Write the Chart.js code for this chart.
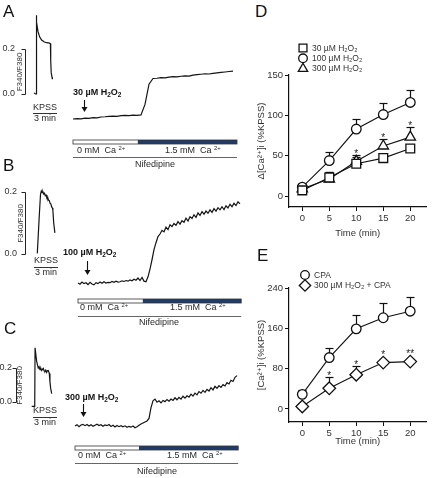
<!DOCTYPE html>
<html>
<head>
<meta charset="utf-8">
<script src="https://cdn.jsdelivr.net/npm/chart.js@4.4.1/dist/chart.umd.min.js"></script>
<style>
  html, body { margin: 0; padding: 0; background: #fff; }
  body { position: relative; width: 434px; height: 478px; overflow: hidden;
         font-family: "Liberation Sans", Arial, sans-serif; color: #2a2a2a; }
  canvas { position: absolute; }
  .t { position: absolute; white-space: nowrap; line-height: 1; }
  .panel { font-size: 17px; color: #111; }
  .drug { font-size: 9px; font-weight: bold; color: #111; }
  .sm { font-size: 9px; }
  .ctr { transform: translateX(-50%); }
  .sub { font-size: 0.72em; position: relative; top: 0.28em; }
  .sup { font-size: 0.65em; position: relative; top: -0.45em; }
</style>
</head>
<body>
<canvas id="kpss-A"></canvas><canvas id="main-A"></canvas>
<canvas id="kpss-B"></canvas><canvas id="main-B"></canvas>
<canvas id="kpss-C"></canvas><canvas id="main-C"></canvas>
<canvas id="chart-D"></canvas><canvas id="chart-E"></canvas>

<!-- panel letters -->
<div class="t panel" style="left:3px;top:3px">A</div>
<div class="t panel" style="left:3px;top:157px">B</div>
<div class="t panel" style="left:4px;top:320px">C</div>
<div class="t panel" style="left:255px;top:3px">D</div>
<div class="t panel" style="left:257px;top:247px">E</div>

<!-- A -->
<div class="t drug" style="left:73px;top:88px">30 µM H<span class="sub">2</span>O<span class="sub">2</span></div>
<div class="t sm ctr" style="left:45px;top:103px">KPSS</div>
<div class="t sm ctr" style="left:45px;top:114px">3 min</div>
<div class="t sm" style="left:77px;top:146px">0 mM&nbsp; Ca <span class="sup">2+</span></div>
<div class="t sm" style="left:165px;top:146px">1.5 mM&nbsp; Ca <span class="sup">2+</span></div>
<div class="t sm ctr" style="left:155px;top:160px">Nifedipine</div>

<!-- B -->
<div class="t drug" style="left:63px;top:248px">100 µM H<span class="sub">2</span>O<span class="sub">2</span></div>
<div class="t sm ctr" style="left:46px;top:256px">KPSS</div>
<div class="t sm ctr" style="left:46px;top:267.5px">3 min</div>
<div class="t sm" style="left:80px;top:303px">0 mM&nbsp; Ca <span class="sup">2+</span></div>
<div class="t sm" style="left:170px;top:303px">1.5 mM&nbsp; Ca <span class="sup">2+</span></div>
<div class="t sm ctr" style="left:159px;top:318px">Nifedipine</div>

<!-- C -->
<div class="t drug" style="left:65px;top:393px">300 µM H<span class="sub">2</span>O<span class="sub">2</span></div>
<div class="t sm ctr" style="left:45px;top:406px">KPSS</div>
<div class="t sm ctr" style="left:45px;top:417.5px">3 min</div>
<div class="t sm" style="left:78px;top:451px">0 mM&nbsp; Ca <span class="sup">2+</span></div>
<div class="t sm" style="left:167px;top:451px">1.5 mM&nbsp; Ca <span class="sup">2+</span></div>
<div class="t sm ctr" style="left:157px;top:467px">Nifedipine</div>

<script>
/* ── Data: Fura-2 traces (F340/F380, change from baseline) ── */
const TRACE_STEP_A = 0.5;   // min between samples
const TRACE_STEP_BC = 0.25;

const TRACE_A = [
  0.000, 0.002, 0.001, 0.004, 0.003, 0.006, 0.005, 0.009, 0.010, 0.012,
  0.013, 0.012, 0.015, 0.016, 0.015, 0.017, 0.016, 0.018, 0.065, 0.155,
  0.180, 0.181, 0.184, 0.183, 0.186, 0.188, 0.187, 0.190, 0.192, 0.191,
  0.195, 0.197, 0.199, 0.201, 0.200, 0.203, 0.205, 0.207, 0.209, 0.211, 0.213
];

const TRACE_B = [
  0.000, -0.004, 0.003, -0.002, 0.001, -0.005, 0.002, -0.003,
  -0.006, 0.001, -0.002, 0.003, -0.001, 0.004, 0.000, 0.002,
  0.001, 0.005, 0.002, 0.006, 0.003, 0.004, 0.007, 0.005,
  0.008, 0.006, 0.010, 0.007, 0.012, 0.009, 0.016, 0.008,
  0.018, 0.006, 0.004, 0.020, 0.045, 0.075, 0.108, 0.130,
  0.150, 0.158, 0.170, 0.165, 0.180, 0.172, 0.188, 0.182,
  0.192, 0.186, 0.198, 0.190, 0.201, 0.196, 0.209, 0.200,
  0.214, 0.208, 0.220, 0.212, 0.226, 0.218, 0.230, 0.222,
  0.232, 0.225, 0.236, 0.228, 0.240, 0.232, 0.243, 0.236,
  0.246, 0.237, 0.249, 0.242, 0.254, 0.246, 0.257, 0.250,
  0.262, 0.255
];

const TRACE_C = [
  0.000, 0.008, -0.004, 0.006, 0.010, 0.002, 0.009, 0.000,
  0.007, -0.002, 0.005, 0.011, 0.003, 0.008, -0.001, 0.006,
  0.002, 0.009, -0.003, 0.004, -0.006, 0.003, -0.004, 0.002,
  -0.005, 0.001, -0.008, -0.002, -0.007, 0.000, -0.010, -0.004,
  0.004, 0.012, 0.018, 0.024, 0.030, 0.045, 0.110, 0.150,
  0.160, 0.142, 0.150, 0.138, 0.152, 0.145, 0.158, 0.148,
  0.160, 0.152, 0.168, 0.156, 0.170, 0.160, 0.178, 0.166,
  0.180, 0.172, 0.190, 0.178, 0.196, 0.185, 0.205, 0.195,
  0.212, 0.200, 0.218, 0.208, 0.228, 0.215, 0.236, 0.224,
  0.240, 0.230, 0.246, 0.238, 0.258, 0.250, 0.272, 0.265,
  0.290, 0.300
];

// KPSS responses (time in min, ratio)
const KPSS_A_T = [-0.25, -0.05, 0.0, 0.03, 0.1, 0.25, 0.45, 0.7, 1.0, 1.3, 1.6, 1.8, 1.84, 1.9, 2.0, 2.05];
const KPSS_A_V = [0.004, 0.000, 0.000, 0.350, 0.318, 0.278, 0.254, 0.240, 0.232, 0.228, 0.227, 0.224, 0.150, 0.095, 0.075, 0.066];
const KPSS_B_T = [0, 0.12, 0.25, 0.4, 0.5, 0.6, 0.7, 0.8, 0.9, 1.0, 1.1, 1.2, 1.3, 1.4, 1.5, 1.6, 1.7, 1.8, 1.9, 1.95, 2.05, 2.2];
const KPSS_B_V = [0.002, 0.060, 0.125, 0.192, 0.203, 0.198, 0.201, 0.193, 0.196, 0.188, 0.190, 0.181, 0.183, 0.174, 0.172, 0.163, 0.161, 0.152, 0.148, 0.140, 0.100, 0.068];
const KPSS_C_T = [-0.2, 0.18, 0.22, 0.42, 0.55, 0.62, 0.72, 0.84, 0.95, 1.05, 1.15, 1.25, 1.35, 1.46, 1.55, 1.67, 1.75, 1.87, 2.0, 2.08, 2.17, 2.3];
const KPSS_C_V = [-0.026, -0.026, 0.323, 0.242, 0.215, 0.202, 0.210, 0.192, 0.200, 0.188, 0.196, 0.200, 0.185, 0.182, 0.190, 0.176, 0.186, 0.188, 0.170, 0.121, 0.081, 0.050];

const SCALE_BAR_TICKS = [0.0, 0.2];
const SCALE_BAR_LABELS = ["0.0", "0.2"];
const KPSS_TIME_BAR_MIN = 3;

// protocol timing per panel (A, B, C), min
const H2O2_ADD_T = [1.4, 1.1, 1.0];
const CA_SWITCH_T = [8.1, 8.1, 8.0];
const PROTOCOL_END_T = [20.5, 20.4, 20.4];

/* ── Data: summary panels D and E ── */
const TIME_MIN = [0, 5, 10, 15, 20];
const X_TICKS = [0, 5, 10, 15, 20];

const D_30 = [7, 23, 40, 47, 59];
const D_30_SEM = [6, 7, 8, 4, 3];
const D_100 = [11, 44, 83, 101, 116];
const D_100_SEM = [4, 11, 12, 14, 16];
const D_300 = [9, 21, 43, 62, 73];
const D_300_SEM = [5, 9, 8, 9, 12];
const D_300_STARS = ["", "", "*", "*", "*"];
const D_Y_TICKS = [0, 50, 100, 150];

const E_CPA = [29, 102, 159, 181, 194];
const E_CPA_SEM = [8, 18, 28, 29, 29];
const E_H2O2 = [5, 41, 68, 92, 94];
const E_H2O2_SEM = [0, 23, 17, 0, 0];
const E_H2O2_STARS = ["", "*", "*", "*", "**"];
const E_Y_TICKS = [0, 80, 160, 240];

const NO_STARS = ["", "", "", "", ""];

/* ── Layout (page pixels) ─────────────────── */
const FONT = "'Liberation Sans', Arial, 'DejaVu Sans', sans-serif";
const PX_PER_MIN = 8;

const LAYOUT = {
  A: {
    kpss: { left: 0, top: 8, w: 64, h: 114, x0: 36, zeroY: 94, ppu: 225, axisX: 25, labelR: 15, titleX: 19.5, barX0: 33, barY: 113 },
    main: { left: 65, top: 58, w: 180, h: 104, x0: 73, zeroY: 119, ppu: 225, arrowTop: 100, arrowBot: 112, barTop: 140, lineY: 157 }
  },
  B: {
    kpss: { left: 0, top: 185, w: 64, h: 95, x0: 37.3, zeroY: 254, ppu: 310, axisX: 25, labelR: 17, titleX: 21, barX0: 34, barY: 266.5 },
    main: { left: 65, top: 195, w: 180, h: 125, x0: 78, zeroY: 283, ppu: 310, arrowTop: 261, arrowBot: 275, barTop: 299, lineY: 316 }
  },
  C: {
    kpss: { left: 0, top: 340, w: 64, h: 90, x0: 33.3, zeroY: 402, ppu: 168, axisX: 16, labelR: 12, titleX: 19.5, barX0: 33, barY: 416.5 },
    main: { left: 65, top: 360, w: 180, h: 108, x0: 75, zeroY: 426, ppu: 168, arrowTop: 404, arrowBot: 417, barTop: 446, lineY: 463 }
  }
};

// ── helpers ────────────────────────────────
function placeCanvas(id, L) {
  const c = document.getElementById(id);
  c.width = L.w;
  c.height = L.h;
  c.style.left = L.left + "px";
  c.style.top = L.top + "px";
  return c;
}

function xRange(L) {
  const min = -(L.x0 - L.left) / PX_PER_MIN;
  return { min, max: min + L.w / PX_PER_MIN };
}

function yRange(L) {
  return { min: -(L.top + L.h - L.zeroY) / L.ppu, max: (L.zeroY - L.top) / L.ppu };
}

function line(ctx, x1, y1, x2, y2) {
  ctx.beginPath();
  ctx.moveTo(x1, y1);
  ctx.lineTo(x2, y2);
  ctx.stroke();
}

function traceChart(canvas, L, points, plugin) {
  const xr = xRange(L), yr = yRange(L);
  return new Chart(canvas, {
    type: "line",
    data: { datasets: [{ data: points, borderColor: "#141414", borderWidth: 1.2, pointRadius: 0, tension: 0, fill: false }] },
    options: {
      responsive: false, animation: false, devicePixelRatio: 1, events: [],
      layout: { padding: 0 },
      plugins: { legend: { display: false }, tooltip: { enabled: false } },
      scales: {
        x: { type: "linear", display: false, min: xr.min, max: xr.max },
        y: { type: "linear", display: false, min: yr.min, max: yr.max }
      }
    },
    plugins: [plugin]
  });
}

// scale bar (F340/F380) + 3 min time bar next to the KPSS response
function makeScaleBar(L) {
  return {
    id: "scaleBar",
    afterDraw(chart) {
      const { ctx, scales: { x, y } } = chart;
      const ax = L.axisX - L.left + 0.5;
      const yA = Math.round(y.getPixelForValue(SCALE_BAR_TICKS[0])) + 0.5;
      const yB = Math.round(y.getPixelForValue(SCALE_BAR_TICKS[1])) + 0.5;
      ctx.save();
      ctx.strokeStyle = "#222";
      ctx.lineWidth = 1;
      line(ctx, ax, yA, ax, yB);
      line(ctx, ax - 4, yA, ax, yA);
      line(ctx, ax - 4, yB, ax, yB);

      ctx.fillStyle = "#333";
      ctx.font = "9px " + FONT;
      ctx.textAlign = "right";
      ctx.textBaseline = "middle";
      ctx.fillText(SCALE_BAR_LABELS[0], L.labelR - L.left, yA - 1);
      ctx.fillText(SCALE_BAR_LABELS[1], L.labelR - L.left, yB - 1);

      ctx.save();
      ctx.translate(L.titleX - L.left, (yA + yB) / 2);
      ctx.rotate(-Math.PI / 2);
      ctx.textAlign = "center";
      ctx.font = "8px " + FONT;
      ctx.fillText("F340/F380", 0, 0);
      ctx.restore();

      // 3 min bar
      const t0 = x.getValueForPixel(L.barX0 - L.left);
      const bx1 = x.getPixelForValue(t0), bx2 = x.getPixelForValue(t0 + KPSS_TIME_BAR_MIN);
      const by = Math.round(L.barY - L.top) + 0.5;
      ctx.strokeStyle = "#333";
      line(ctx, bx1, by, bx2, by);
      ctx.restore();
    }
  };
}

// arrow, Ca2+ bar and Nifedipine line under each trace
function makeProtocol(L, i) {
  return {
    id: "protocol",
    afterDraw(chart) {
      const { ctx, scales: { x } } = chart;
      const oy = -L.top;
      const xs = x.getPixelForValue(0);
      const xw = x.getPixelForValue(CA_SWITCH_T[i]);
      const xe = x.getPixelForValue(PROTOCOL_END_T[i]);
      const bt = L.barTop + oy;
      ctx.save();
      ctx.fillStyle = "#fff";
      ctx.fillRect(xs, bt, xw - xs, 4);
      ctx.fillStyle = "#1f3b69";
      ctx.fillRect(xw, bt, xe - xw, 4);
      ctx.strokeStyle = "#333";
      ctx.lineWidth = 0.8;
      ctx.strokeRect(xs, bt, xe - xs, 4);

      ctx.strokeStyle = "#666";
      ctx.lineWidth = 1;
      const ly = Math.round(L.lineY + oy) + 0.5;
      line(ctx, xs, ly, xe, ly);

      // H2O2 arrow
      const xa = Math.round(x.getPixelForValue(H2O2_ADD_T[i])) + 0.5;
      const at = L.arrowTop + oy, ab = L.arrowBot + oy;
      ctx.strokeStyle = "#111";
      ctx.lineWidth = 1.1;
      line(ctx, xa, at, xa, ab - 4);
      ctx.fillStyle = "#111";
      ctx.beginPath();
      ctx.moveTo(xa - 3, ab - 5);
      ctx.lineTo(xa + 3, ab - 5);
      ctx.lineTo(xa, ab);
      ctx.closePath();
      ctx.fill();
      ctx.restore();
    }
  };
}

// ── Panels A–C ─────────────────────────────
const TRACES = {
  A: { kT: KPSS_A_T, kV: KPSS_A_V, v: TRACE_A, step: TRACE_STEP_A },
  B: { kT: KPSS_B_T, kV: KPSS_B_V, v: TRACE_B, step: TRACE_STEP_BC },
  C: { kT: KPSS_C_T, kV: KPSS_C_V, v: TRACE_C, step: TRACE_STEP_BC }
};

["A", "B", "C"].forEach((key, i) => {
  const L = LAYOUT[key], T = TRACES[key];
  const kpssPts = T.kT.map((t, j) => ({ x: t, y: T.kV[j] }));
  const mainPts = T.v.map((v, j) => ({ x: j * T.step, y: v }));
  traceChart(placeCanvas("kpss-" + key, L.kpss), L.kpss, kpssPts, makeScaleBar(L.kpss));
  traceChart(placeCanvas("main-" + key, L.main), L.main, mainPts, makeProtocol(L.main, i));
});

// ── Panels D and E ─────────────────────────
const X_MIN = -2.46, X_MAX = 23;

function series(label, values, sem, pointStyle, radius, stars) {
  return {
    label,
    data: TIME_MIN.map((t, i) => ({ x: t, y: values[i] })),
    sem, stars,
    borderColor: "#111", borderWidth: 1.1,
    pointStyle, pointRadius: radius,
    pointBackgroundColor: "#fff", pointBorderColor: "#111", pointBorderWidth: 1.3,
    tension: 0, fill: false
  };
}

const errorBarPlugin = {
  id: "errorBars",
  beforeDatasetsDraw(chart) {
    const { ctx, scales: { x, y } } = chart;
    ctx.save();
    ctx.strokeStyle = "#111";
    ctx.lineWidth = 1.2;
    chart.data.datasets.forEach((ds) => {
      ds.data.forEach((p, i) => {
        if (!ds.sem[i]) return;
        const px = Math.round(x.getPixelForValue(p.x)) + 0.5;
        const py = y.getPixelForValue(p.y);
        const pt = Math.round(y.getPixelForValue(p.y + ds.sem[i])) + 0.5;
        line(ctx, px, py, px, pt);
        line(ctx, px - 4, pt, px + 4, pt);
      });
    });
    ctx.restore();
  },
  afterDatasetsDraw(chart) {
    const { ctx, scales: { x, y } } = chart;
    ctx.save();
    ctx.fillStyle = "#222";
    ctx.font = "10px " + FONT;
    ctx.textAlign = "center";
    ctx.textBaseline = "alphabetic";
    chart.data.datasets.forEach((ds) => {
      ds.data.forEach((p, i) => {
        if (!ds.stars[i]) return;
        const px = x.getPixelForValue(p.x);
        const top = Math.min(y.getPixelForValue(p.y + ds.sem[i]), y.getPixelForValue(p.y) - ds.pointRadius);
        ctx.fillText(ds.stars[i], px, top + 2);
      });
    });
    ctx.restore();
  }
};

function makeLegend(x, y0, dy) {
  return {
    id: "sideLegend",
    afterDraw(chart) {
      const { ctx } = chart;
      ctx.save();
      chart.data.datasets.forEach((ds, i) => {
        const yy = y0 + i * dy;
        ctx.fillStyle = "#fff";
        ctx.strokeStyle = "#111";
        ctx.lineWidth = 1.3;
        Chart.helpers.drawPoint(ctx, { pointStyle: ds.pointStyle, radius: ds.pointRadius * 0.9, rotation: 0, borderWidth: 1.3 }, x, yy);
        ctx.fillStyle = "#333";
        ctx.font = "8.5px " + FONT;
        ctx.textAlign = "left";
        ctx.textBaseline = "middle";
        ctx.fillText(ds.label, x + 9, yy + 0.5);
      });
      ctx.restore();
    }
  };
}

function statOptions(yMin, yMax, yTicks, yTitle, xAxisH, padTop) {
  const tickFont = { family: FONT, size: 9.5 };
  const axisGrid = { display: true, drawOnChartArea: false, drawTicks: true, tickLength: 4, color: "#111", lineWidth: 1 };
  return {
    responsive: false, animation: false, devicePixelRatio: 1, events: [],
    layout: { padding: { top: padTop, right: 1, left: 0, bottom: 0 } },
    plugins: { legend: { display: false }, tooltip: { enabled: false } },
    scales: {
      x: {
        type: "linear", min: X_MIN, max: X_MAX,
        afterBuildTicks: (s) => { s.ticks = X_TICKS.map((v) => ({ value: v })); },
        afterFit: (s) => { s.height = xAxisH; },
        grid: axisGrid,
        border: { display: true, color: "#111", width: 1.2 },
        ticks: { color: "#333", font: tickFont, padding: 2, maxRotation: 0 },
        title: { display: true, text: "Time (min)", color: "#333", font: tickFont, padding: { top: 2, bottom: 1 } }
      },
      y: {
        type: "linear", min: yMin, max: yMax,
        afterBuildTicks: (s) => { s.ticks = yTicks.map((v) => ({ value: v })); },
        afterFit: (s) => { s.width = 39; },
        grid: axisGrid,
        border: { display: true, color: "#111", width: 1.2 },
        ticks: { color: "#333", font: tickFont, padding: 2 },
        title: { display: true, text: yTitle, color: "#333", font: tickFont, padding: { top: 6, bottom: 0 } }
      }
    }
  };
}

// D: canvas 250..434 x 40..240 -> plot area 289..433 x 75..207
const dCanvas = placeCanvas("chart-D", { left: 250, top: 40, w: 184, h: 200 });
new Chart(dCanvas, {
  type: "line",
  data: {
    datasets: [
      series("30 µM H₂O₂", D_30, D_30_SEM, "rect", 6.2, NO_STARS),
      series("100 µM H₂O₂", D_100, D_100_SEM, "circle", 4.8, NO_STARS),
      series("300 µM H₂O₂", D_300, D_300_SEM, "triangle", 6, D_300_STARS)
    ]
  },
  options: statOptions(-13.6, 150, D_Y_TICKS, "Δ[Ca²⁺]i (%KPSS)", 33, 35),
  plugins: [errorBarPlugin, makeLegend(53, 8, 10.3)]
});

// E: canvas 250..434 x 258..448 -> plot area 289..433 x 288..422
const eCanvas = placeCanvas("chart-E", { left: 250, top: 258, w: 184, h: 190 });
new Chart(eCanvas, {
  type: "line",
  data: {
    datasets: [
      series("CPA", E_CPA, E_CPA_SEM, "circle", 4.8, NO_STARS),
      series("300 µM H₂O₂ + CPA", E_H2O2, E_H2O2_SEM, "rectRot", 6.3, E_H2O2_STARS)
    ]
  },
  options: statOptions(-25.8, 240, E_Y_TICKS, "[Ca²⁺]i (%KPSS)", 26, 30),
  plugins: [errorBarPlugin, makeLegend(55, 17, 10.5)]
});
</script>
</body>
</html>
